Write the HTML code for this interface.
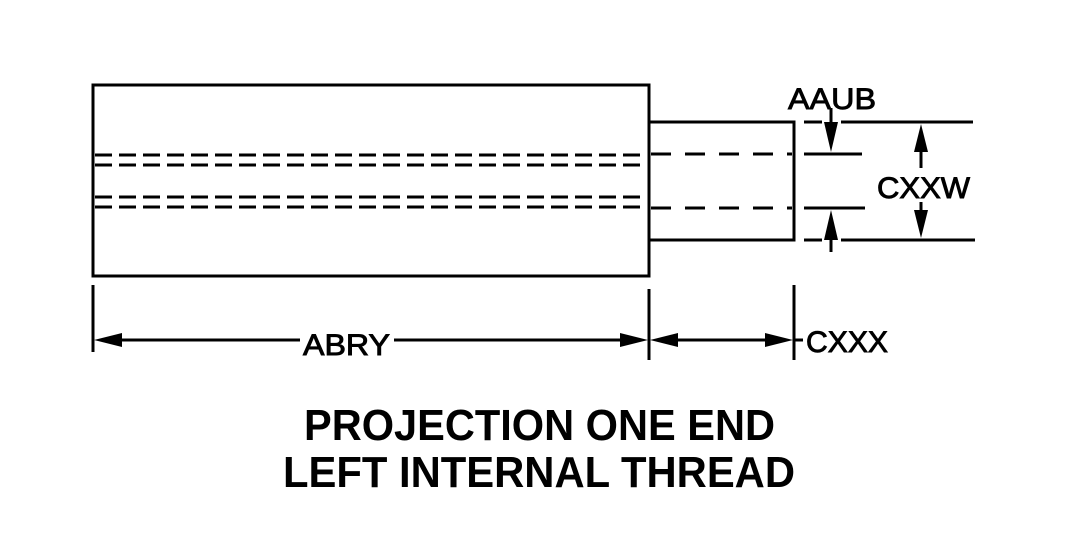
<!DOCTYPE html>
<html><head><style>html,body{margin:0;padding:0;background:#fff}svg{display:block}</style></head>
<body>
<svg width="1069" height="557" viewBox="0 0 1069 557" xmlns="http://www.w3.org/2000/svg">
<g stroke="#000" stroke-width="3" fill="none">
<rect x="93" y="85" width="556" height="191"/>
<polyline points="649,122 794,122 794,240 649,240"/>
<g stroke-dasharray="17,7">
<line x1="95" y1="155" x2="647" y2="155"/>
<line x1="95" y1="165" x2="647" y2="165"/>
<line x1="95" y1="197" x2="647" y2="197"/>
<line x1="95" y1="207" x2="647" y2="207"/>
</g>
<g stroke-dasharray="20,14">
<line x1="651" y1="154" x2="792" y2="154"/>
<line x1="651" y1="208" x2="792" y2="208"/>
</g>
<line x1="804" y1="122" x2="822" y2="122"/>
<line x1="841" y1="122" x2="973" y2="122"/>
<line x1="804" y1="240" x2="822" y2="240"/>
<line x1="841" y1="240" x2="975" y2="240"/>
<line x1="804" y1="154" x2="862" y2="154"/>
<line x1="804" y1="208" x2="865" y2="208"/>
<line x1="831" y1="108" x2="831" y2="135"/>
<line x1="831" y1="225" x2="831" y2="252"/>
<line x1="921" y1="135" x2="921" y2="168"/>
<line x1="921" y1="202" x2="921" y2="228"/>
<line x1="93" y1="285" x2="93" y2="352"/>
<line x1="649" y1="289" x2="649" y2="360"/>
<line x1="794" y1="285" x2="794" y2="360"/>
<line x1="108" y1="340" x2="300" y2="340"/>
<line x1="394" y1="340" x2="634" y2="340"/>
<line x1="664" y1="340" x2="779" y2="340"/>
<line x1="794" y1="340" x2="803" y2="340"/>
</g>
<g fill="#000">
<polygon points="831,152 824,122 838,122"/>
<polygon points="831,210 824,240 838,240"/>
<polygon points="921,124 914,152 928,152"/>
<polygon points="921,238 914,210 928,210"/>
<polygon points="94,340 122,333 122,347"/>
<polygon points="648,340 620,333 620,347"/>
<polygon points="650,340 678,333 678,347"/>
<polygon points="793,340 765,333 765,347"/>
</g>
<g font-family="Liberation Sans, sans-serif" fill="#000" stroke="#000" stroke-width="0.9">
<text x="788" y="109" font-size="30" textLength="88" lengthAdjust="spacingAndGlyphs">AAUB</text>
<text x="877" y="198" font-size="30" textLength="93" lengthAdjust="spacingAndGlyphs">CXXW</text>
<text x="806" y="352" font-size="30" textLength="82" lengthAdjust="spacingAndGlyphs">CXXX</text>
<text x="303" y="355" font-size="30" textLength="87" lengthAdjust="spacingAndGlyphs">ABRY</text>
</g>
<g font-family="Liberation Sans, sans-serif" fill="#000">
<text x="304" y="440" font-size="44" font-weight="bold" textLength="471" lengthAdjust="spacingAndGlyphs">PROJECTION ONE END</text>
<text x="283" y="487" font-size="44" font-weight="bold" textLength="512" lengthAdjust="spacingAndGlyphs">LEFT INTERNAL THREAD</text>
</g>
</svg>
</body></html>
